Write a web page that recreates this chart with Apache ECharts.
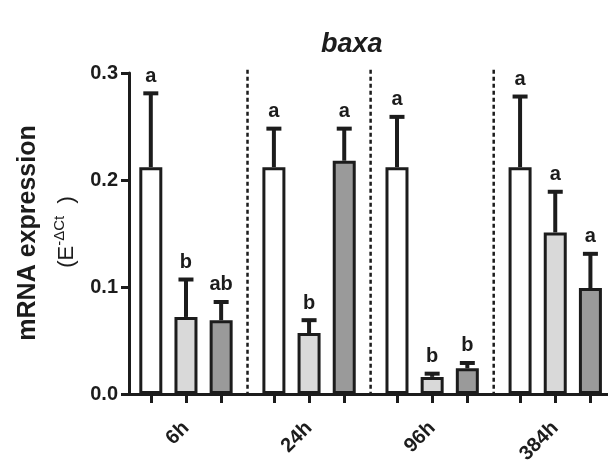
<!DOCTYPE html>
<html>
<head>
<meta charset="utf-8">
<script src="https://cdn.jsdelivr.net/npm/echarts@6/dist/echarts.min.js"></script>
<style>html,body{margin:0;padding:0;background:#fff}#c{width:608px;height:468px}</style>
</head>
<body>
<div id="c"></div>
<script>
const groups = ['6h', '24h', '96h', '384h'];
const yTicks = [0, 0.1, 0.2, 0.3];
// three treatments (white, light grey, dark grey)
const meanWhite = [0.212, 0.212, 0.212, 0.212];
const meanLight = [0.072, 0.057, 0.016, 0.151];
const meanDark  = [0.069, 0.218, 0.024, 0.099];
const upperWhite = [0.281, 0.248, 0.259, 0.278];
const upperLight = [0.107, 0.069, 0.019, 0.189];
const upperDark  = [0.086, 0.248, 0.029, 0.131];
const lettersWhite = ['a', 'a', 'a', 'a'];
const lettersLight = ['b', 'b', 'b', 'a'];
const lettersDark  = ['ab', 'a', 'b', 'a'];

const INK = '#1c1c1c';
const FONT = '"Liberation Sans", Arial, sans-serif';
const GROUP_STEP = 3.5;
const pos = (g, s) => g * GROUP_STEP + s;

const treatments = [
  {mean: meanWhite, upper: upperWhite, letters: lettersWhite, color: '#ffffff'},
  {mean: meanLight, upper: upperLight, letters: lettersLight, color: '#d9d9d9'},
  {mean: meanDark,  upper: upperDark,  letters: lettersDark,  color: '#9a9a9a'}
];

const tickPositions = [];
groups.forEach((g, gi) => { for (let s = 0; s < 3; s++) tickPositions.push(pos(gi, s)); });
const labelPositions = groups.map((g, gi) => pos(gi, 1));
const separators = groups.slice(1).map((g, gi) => pos(gi, 2) + (GROUP_STEP - 2) / 2);

const series = [];
treatments.forEach((t, ti) => {
  series.push({
    type: 'bar',
    barWidth: 23,
    barGap: '-100%',
    itemStyle: {color: t.color, borderColor: INK, borderWidth: 3},
    data: t.mean.map((v, gi) => [pos(gi, ti), v]),
    z: 2
  });
});
treatments.forEach((t, ti) => {
  series.push({
    type: 'custom',
    z: 5,
    encode: {x: 0, y: 1},
    data: t.mean.map((v, gi) => [pos(gi, ti), v, t.upper[gi]]),
    renderItem: function (params, api) {
      const x = api.value(0), m = api.value(1), u = api.value(2);
      const p0 = api.coord([x, m]);
      const p1 = api.coord([x, u]);
      return {
        type: 'group',
        children: [
          {type: 'line', shape: {x1: p0[0], y1: p0[1], x2: p1[0], y2: p1[1]}, style: {stroke: INK, lineWidth: 4}},
          {type: 'line', shape: {x1: p1[0] - 7.5, y1: p1[1], x2: p1[0] + 7.5, y2: p1[1]}, style: {stroke: INK, lineWidth: 4}},
          {type: 'text', x: p1[0], y: p1[1] - 17, style: {text: t.letters[params.dataIndex], align: 'center', verticalAlign: 'middle', font: 'bold 20px ' + FONT, fill: INK}}
        ]
      };
    }
  });
});
// dotted separators between time points
series.push({
  type: 'custom',
  z: 1,
  encode: {x: 0, y: 1},
  data: separators.map(s => [s, 0.303]),
  renderItem: function (params, api) {
    const top = api.coord([api.value(0), api.value(1)]);
    const bottom = api.coord([api.value(0), 0]);
    return {type: 'line', shape: {x1: top[0], y1: top[1], x2: bottom[0], y2: bottom[1]},
      style: {stroke: INK, lineWidth: 2.5, lineDash: [4, 3]}};
  }
});

const chart = echarts.init(document.getElementById('c'), null, {renderer: 'canvas'});
chart.setOption({
  animation: false,
  backgroundColor: '#ffffff',
  textStyle: {fontFamily: FONT},
  title: {
    text: 'baxa', left: 316, top: 26,
    textStyle: {fontSize: 27, fontWeight: 'bold', fontStyle: 'italic', color: INK, fontFamily: FONT}
  },
  grid: {left: 129, right: 0, top: 73, bottom: 74, containLabel: false},
  xAxis: {
    type: 'value', min: -0.62, max: 13,
    splitLine: {show: false},
    axisLine: {show: true, onZero: false, lineStyle: {color: INK, width: 3}},
    axisTick: {show: true, length: 9, lineStyle: {color: INK, width: 3}, customValues: tickPositions},
    axisLabel: {
      rotate: 45, margin: 31, fontSize: 20, fontWeight: 'bold', color: INK,
      customValues: labelPositions,
      formatter: v => { const i = labelPositions.findIndex(p => Math.abs(p - v) < 1e-6); return i >= 0 ? groups[i] : ''; }
    }
  },
  yAxis: {
    type: 'value', min: 0, max: 0.3, interval: 0.1,
    splitLine: {show: false},
    axisLine: {show: true, onZero: false, lineStyle: {color: INK, width: 3}},
    axisTick: {show: true, length: 8, lineStyle: {color: INK, width: 3}},
    axisLabel: {margin: 11, fontSize: 20, fontWeight: 'bold', color: INK, formatter: v => v.toFixed(1)}
  },
  graphic: [
    {type: 'text', x: 28, y: 233, rotation: Math.PI / 2,
      style: {text: 'mRNA expression', align: 'center', verticalAlign: 'middle', font: 'bold 25px ' + FONT, fill: INK}},
    {type: 'text', x: 65, y: 232, rotation: Math.PI / 2,
      style: {text: '{n|(E}{s|-ΔCt}{n|  )}', align: 'center', verticalAlign: 'middle',
        rich: {
          n: {fontSize: 22, fontFamily: FONT, fill: INK, lineHeight: 26, verticalAlign: 'bottom'},
          s: {fontSize: 15, fontFamily: FONT, fill: INK, lineHeight: 26, verticalAlign: 'top', padding: [0, 0, 7, 0]}
        }}}
  ],
  series: series
});
</script>
</body>
</html>
